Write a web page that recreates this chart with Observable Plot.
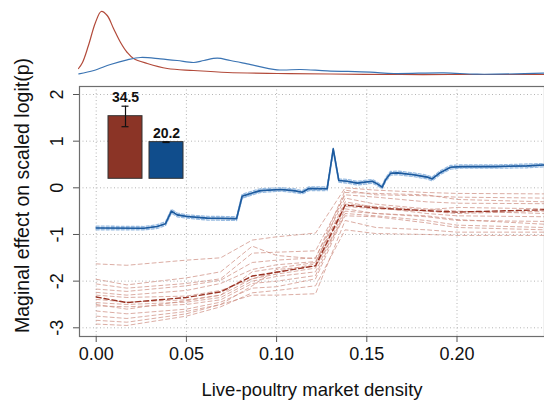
<!DOCTYPE html>
<html>
<head>
<meta charset="utf-8">
<script src="https://cdn.jsdelivr.net/npm/d3@7"></script>
<script src="https://cdn.jsdelivr.net/npm/@observablehq/plot@0.6"></script>
<style>
  body { margin: 0; background: white; }
  #wrap { position: relative; width: 544px; height: 406px; overflow: hidden; }
  #wrap svg { display: block; }
  #inset { position: absolute; left: 100px; top: 85px; }
</style>
</head>
<body>
<div id="wrap"><div id="dens"></div><div id="main"></div><div id="inset"></div></div>
<script>
// ---------- data ----------
const xTicks = [0, 0.05, 0.10, 0.15, 0.20];
const yTicks = [-3, -2, -1, 0, 1, 2];
const xTitle = "Live-poultry market density";
const yTitle = "Maginal effect on scaled logit(p)";

// top density panel (relative density units)
const redDensX = [-0.0098, -0.0076, -0.0043, -0.0004, 0.0028, 0.0061, 0.0096, 0.0135, 0.0172, 0.0207, 0.0283, 0.0394, 0.054, 0.0728, 0.1005, 0.13, 0.169, 0.196, 0.2485];
const redDens  = [8, 14, 31, 54, 65, 61, 48, 34, 24, 18, 13, 8, 6, 4, 3, 2.5, 2, 2, 2];
const blueDensX = [-0.0096, -0.0013, 0.0079, 0.0172, 0.0246, 0.0356, 0.0449, 0.0541, 0.0597, 0.0671, 0.0744, 0.0837, 0.1003, 0.1133, 0.128, 0.152, 0.165, 0.1927, 0.2112, 0.2481];
const blueDens  = [2.7, 6, 12, 16.7, 19, 17.7, 16, 14, 16, 18.3, 16, 12.7, 6.7, 7, 5.7, 4.3, 3, 3.7, 2.3, 3.3];

// inset bars
const barCats = ["red", "blue"];
const barValues = [34.5, 20.2];
const barLow = [28.7, 20.0];
const barHigh = [40.0, 20.4];

// blue curves
const blueX = [0, 0.0264, 0.0338, 0.0384, 0.0417, 0.0449, 0.0504, 0.0615, 0.0778, 0.0809, 0.0874, 0.0911, 0.1022, 0.1095, 0.1142, 0.1179, 0.128, 0.1314, 0.1345, 0.1391, 0.1447, 0.153, 0.1558, 0.1585, 0.1604, 0.1631, 0.1669, 0.176, 0.1835, 0.1862, 0.1909, 0.1964, 0.202, 0.2206, 0.2389, 0.2485];
const blueMean = [-0.86, -0.866, -0.83, -0.77, -0.50, -0.58, -0.615, -0.65, -0.66, -0.18, -0.10, -0.06, -0.036, -0.06, -0.094, -0.016, -0.02, 0.835, 0.156, 0.14, 0.10, 0.14, 0.085, 0.013, 0.17, 0.31, 0.32, 0.28, 0.23, 0.19, 0.33, 0.44, 0.455, 0.455, 0.47, 0.49];
const blue1 = [-0.82, -0.83, -0.79, -0.73, -0.46, -0.54, -0.58, -0.61, -0.62, -0.14, -0.06, -0.02, 0.00, -0.02, -0.06, 0.02, 0.02, 0.79, 0.19, 0.18, 0.14, 0.18, 0.12, 0.05, 0.21, 0.35, 0.36, 0.32, 0.27, 0.23, 0.37, 0.48, 0.49, 0.49, 0.51, 0.52];
const blue2 = [-0.90, -0.90, -0.87, -0.81, -0.54, -0.62, -0.65, -0.69, -0.70, -0.22, -0.14, -0.10, -0.07, -0.10, -0.13, -0.06, -0.06, 0.77, 0.12, 0.10, 0.06, 0.10, 0.05, -0.02, 0.13, 0.27, 0.28, 0.24, 0.19, 0.15, 0.29, 0.40, 0.42, 0.42, 0.43, 0.45];
const blue3 = [-0.85, -0.86, -0.82, -0.78, -0.51, -0.57, -0.60, -0.64, -0.67, -0.22, -0.12, -0.07, -0.03, -0.05, -0.09, -0.04, -0.03, 0.82, 0.17, 0.15, 0.12, 0.15, 0.09, 0.03, 0.16, 0.32, 0.33, 0.29, 0.24, 0.21, 0.32, 0.45, 0.46, 0.47, 0.48, 0.50];
const blue4 = [-0.88, -0.88, -0.84, -0.76, -0.49, -0.59, -0.63, -0.66, -0.65, -0.16, -0.09, -0.05, -0.04, -0.07, -0.10, 0.00, -0.01, 0.85, 0.15, 0.13, 0.09, 0.13, 0.08, 0.00, 0.18, 0.30, 0.31, 0.27, 0.22, 0.18, 0.34, 0.43, 0.44, 0.45, 0.46, 0.48];

// red curves
const redX = [0, 0.017, 0.05, 0.069, 0.0865, 0.100, 0.1216, 0.138, 0.155, 0.183, 0.20, 0.2485];
const redMean = [-2.34, -2.46, -2.35, -2.23, -1.89, -1.81, -1.67, -0.37, -0.43, -0.49, -0.52, -0.47];
const red1  = [-1.63, -1.66, -1.55, -1.50, -1.12, -1.05, -0.97, 0.00, -0.05, -0.10, -0.12, -0.13];
const red2  = [-1.96, -2.08, -1.93, -1.80, -1.25, -1.45, -1.52, -0.05, -0.15, -0.17, -0.20, -0.22];
const red3  = [-2.06, -2.15, -2.05, -1.95, -1.40, -1.38, -1.35, -0.15, -0.20, -0.30, -0.33, -0.34];
const red4  = [-2.17, -2.22, -2.10, -1.98, -1.60, -1.55, -1.50, -0.22, -0.35, -0.45, -0.50, -0.55];
const red5  = [-2.24, -2.30, -2.20, -2.05, -1.75, -1.65, -1.58, -0.30, -0.42, -0.55, -0.60, -0.62];
const red6  = [-2.39, -2.45, -2.40, -2.30, -1.95, -1.85, -1.72, -0.40, -0.45, -0.50, -0.55, -0.50];
const red7  = [-2.46, -2.50, -2.45, -2.35, -2.00, -1.90, -1.80, -0.45, -0.55, -0.62, -0.70, -0.72];
const red8  = [-2.53, -2.55, -2.50, -2.40, -2.05, -2.00, -1.88, -0.50, -0.55, -0.60, -0.68, -0.78];
const red9  = [-2.64, -2.70, -2.60, -2.45, -2.15, -2.12, -1.95, -0.55, -0.60, -0.70, -0.80, -0.85];
const red10 = [-2.84, -2.88, -2.70, -2.50, -2.30, -2.30, -2.27, -0.70, -0.85, -0.90, -0.95, -0.95];
const red11 = [-2.92, -2.95, -2.75, -2.55, -2.25, -2.20, -2.10, -0.90, -0.98, -1.00, -1.02, -1.02];
const red12 = [-2.30, -2.35, -2.32, -2.20, -1.95, -1.80, -1.63, -0.10, -0.12, -0.15, -0.25, -0.30];
const red13 = [-2.50, -2.60, -2.42, -2.30, -1.80, -1.72, -1.60, -0.35, -0.40, -0.47, -0.42, -0.45];
const red14 = [-2.75, -2.80, -2.65, -2.50, -2.10, -1.75, -1.68, -0.60, -0.62, -0.75, -0.85, -0.90];

// ---------- build tables ----------
const toRows = (xs, ys, id) => ys.map((v, i) => ({x: xs[i], y: v, id}));
const blueMembers = [blue1, blue2, blue3, blue4].flatMap((s, k) => toRows(blueX, s, "b" + k));
const redMembers = [red1, red2, red3, red4, red5, red6, red7, red8, red9, red10, red11, red12, red13, red14].flatMap((s, k) => toRows(redX, s, "r" + k));
const blueMeanRows = toRows(blueX, blueMean, "bm");
const redMeanRows = toRows(redX, redMean, "rm");
const xDomain = [-0.009257, 0.2485];
const font = "'Liberation Sans', Arial, Helvetica, sans-serif";

// ---------- density panel ----------
const dens = Plot.plot({
  width: 544, height: 85,
  marginLeft: 79, marginRight: 0, marginTop: 11, marginBottom: 9,
  x: {domain: xDomain, axis: null},
  y: {domain: [0, 65], axis: null},
  style: {background: "white", overflow: "visible", fontFamily: font},
  marks: [
    Plot.line(toRows(redDensX, redDens, "r"), {x: "x", y: "y", curve: "catmull-rom", stroke: "#b24a3a", strokeWidth: 1.2}),
    Plot.line(toRows(blueDensX, blueDens, "b"), {x: "x", y: "y", curve: "catmull-rom", stroke: "#3b74b3", strokeWidth: 1.2})
  ]
});
document.getElementById("dens").appendChild(dens);

// ---------- main panel ----------
const main = Plot.plot({
  width: 544, height: 321,
  marginLeft: 79, marginRight: 0, marginTop: 1, marginBottom: 70,
  x: {domain: xDomain},
  y: {domain: [-3.1865, 2.1715]},
  style: {background: "white", overflow: "visible", fontFamily: font, fontSize: "18px", color: "#111"},
  marks: [
    Plot.gridX(xTicks, {stroke: "#b5b5b5", strokeOpacity: 1, strokeDasharray: "1,2.5"}),
    Plot.gridY(yTicks, {stroke: "#b5b5b5", strokeOpacity: 1, strokeDasharray: "1,2.5"}),
    Plot.line(redMembers, {x: "x", y: "y", z: "id", stroke: "#cc8a7e", strokeOpacity: 0.7, strokeWidth: 1, strokeDasharray: "4,3"}),
    Plot.line(redMeanRows, {x: "x", y: "y", stroke: "#9a3324", strokeWidth: 1.4, strokeDasharray: "5,3"}),
    Plot.line(blueMembers, {x: "x", y: "y", z: "id", stroke: "#8db4de", strokeOpacity: 0.9, strokeWidth: 1.3, strokeDasharray: "3,2"}),
    Plot.line(blueMeanRows, {x: "x", y: "y", stroke: "#1c5a9e", strokeWidth: 1.6}),
    Plot.frame({stroke: "#6e6e6e", strokeWidth: 1.2}),
    Plot.axisX({ticks: xTicks, tickSize: 6, tickPadding: 5, tickFormat: d3.format(".2f"), label: null, stroke: "#555", fontSize: 18}),
    Plot.axisY({ticks: yTicks, tickSize: 6, tickFormat: () => "", label: null, stroke: "#555"}),
    Plot.text(yTicks, {y: d => d, text: d => String(d), frameAnchor: "left", textAnchor: "middle", dx: -22, rotate: -90, fontSize: 18, fill: "#111"}),
    Plot.text([xTitle], {text: d => d, frameAnchor: "bottom", dy: 59, fontSize: 18.5, fill: "#111"}),
    Plot.text([yTitle], {text: d => d, frameAnchor: "left", textAnchor: "middle", dx: -57, dy: -16, rotate: -90, fontSize: 19.5, fill: "#111"})
  ]
});
document.getElementById("main").appendChild(main);

// ---------- inset bar chart ----------
const bars = barCats.map((c, i) => ({cat: c, value: barValues[i], lo: barLow[i], hi: barHigh[i]}));
const inset = Plot.plot({
  width: 95, height: 100,
  marginLeft: 0, marginRight: 0, marginTop: 0, marginBottom: 0,
  x: {type: "band", domain: barCats, range: [7.7, 84.3], paddingInner: 0.159, paddingOuter: 0, axis: null},
  y: {domain: [0, 50], range: [93.3, 2.55], axis: null},
  style: {overflow: "visible", fontFamily: font},
  marks: [
    Plot.barY(bars, {x: "cat", y: "value", fill: d => d.cat === "red" ? "#8b3426" : "#104d8c", stroke: "#333", strokeWidth: 1}),
    Plot.ruleX(bars, {x: "cat", y1: "lo", y2: "hi", stroke: "#111", strokeWidth: 1.2}),
    Plot.tickY(bars, {x: "cat", y: "lo", stroke: "#111", strokeWidth: 1.2, insetLeft: 13.5, insetRight: 13.5}),
    Plot.tickY(bars, {x: "cat", y: "hi", stroke: "#111", strokeWidth: 1.2, insetLeft: 13.5, insetRight: 13.5}),
    Plot.text(bars, {x: "cat", y: "hi", text: d => d.value.toFixed(1), lineAnchor: "bottom", dy: -4, fontSize: 14, fontWeight: "bold", fill: "#111"})
  ]
});
document.getElementById("inset").appendChild(inset);
</script>
</body>
</html>
